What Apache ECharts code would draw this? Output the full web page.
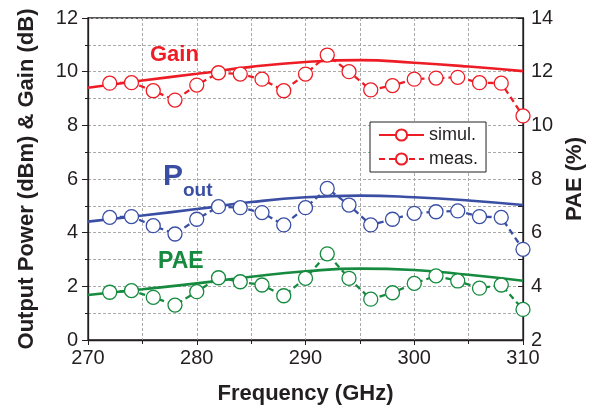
<!DOCTYPE html>
<html><head><meta charset="utf-8">
<script src="https://cdn.jsdelivr.net/npm/echarts@6/dist/echarts.min.js"></script>
<style>html,body{margin:0;padding:0;background:#fff}#c{width:599px;height:414px}</style>
</head><body><div id="c"></div>
<script>
const freqMeas = [272,274,276,278,280,282,284,286,288,290,292,294,296,298,300,302,304,306,308,310];
const gainMeas = [9.57,9.59,9.29,8.94,9.5,9.96,9.91,9.72,9.29,9.91,10.62,10.0,9.32,9.48,9.72,9.76,9.79,9.59,9.57,8.35];
const poutMeas = [4.57,4.6,4.26,3.95,4.5,4.97,4.93,4.75,4.29,4.93,5.65,5.03,4.29,4.5,4.72,4.78,4.81,4.6,4.57,3.38];
const paeMeas = [3.78,3.84,3.59,3.30,3.80,4.32,4.17,4.05,3.65,4.30,5.21,4.30,3.52,3.76,4.11,4.39,4.20,3.93,4.05,3.14];
const freqSim = [270,275,280,285,290,295,300,305,310];
const gainSim = [9.40,9.67,9.92,10.18,10.36,10.43,10.33,10.19,10.02];
const poutSim = [4.41,4.64,4.88,5.14,5.32,5.38,5.32,5.20,5.03];
const paeSim = [3.68,3.89,4.11,4.36,4.56,4.66,4.61,4.43,4.21];
const xTicks = [270,280,290,300,310];

const RED='#ee1c25', BLUE='#3a4ea3', GREEN='#168a3e', INK='#231f20';
const FONT='"Liberation Sans", Arial, sans-serif';
const pair = (xs, ys) => xs.map((x,i)=>[x, ys[i]]);

function sim(name, xs, ys, color, yIdx){
  return {name, type:'line', yAxisIndex:yIdx, data:pair(xs,ys), smooth:true, showSymbol:false,
    lineStyle:{color, width:2.6}, itemStyle:{color}, z:2, silent:true};
}
function meas(name, xs, ys, color, yIdx){
  return {name, type:'line', yAxisIndex:yIdx, data:pair(xs,ys), symbol:'circle', symbolSize:14,
    lineStyle:{color, width:2.3, type:[6,4]}, itemStyle:{color:'#fff', borderColor:color, borderWidth:1.3}, z:3, silent:true};
}
const nameStyle = {fontSize:22, fontWeight:'bold', color:INK, fontFamily:FONT};
const gridLine = {show:true, lineStyle:{color:'#aaa', type:[3,2], width:1}};

const chart = echarts.init(document.getElementById('c'));
chart.setOption({
  animation:false,
  backgroundColor:'#fff',
  grid:{left:88, right:76, top:18, bottom:74, show:true, borderColor:INK, borderWidth:1.3, backgroundColor:'transparent'},
  legend:{left:370, top:122, orient:'vertical', data:['simul.','meas.'], itemWidth:45, itemHeight:14, itemGap:6,
    padding:[4,8,4,8], borderColor:INK, borderWidth:1, backgroundColor:'#fff',
    textStyle:{fontSize:18, color:INK, fontFamily:FONT}},
  xAxis:{type:'value', min:270, max:310, interval:10,
    name:'Frequency (GHz)', nameLocation:'middle', nameGap:43, nameTextStyle:nameStyle,
    axisLine:{lineStyle:{color:INK, width:1.3}},
    axisTick:{length:5, lineStyle:{color:INK}},
    minorTick:{show:true, splitNumber:2, length:4, lineStyle:{color:INK}},
    axisLabel:{fontSize:20, color:INK, margin:8, fontFamily:FONT,
      formatter: v => xTicks.includes(v) ? String(v) : ''},
    splitLine:gridLine, minorSplitLine:gridLine
  },
  yAxis:[
    {type:'value', min:0, max:12, interval:2,
     name:'Output Power (dBm) & Gain (dB)', nameLocation:'middle', nameGap:50, nameRotate:90, nameTextStyle:nameStyle,
     axisLine:{show:true, lineStyle:{color:INK, width:1.3}},
     axisTick:{show:true, length:6, lineStyle:{color:INK}},
     minorTick:{show:true, splitNumber:2, length:3, lineStyle:{color:INK}},
     axisLabel:{fontSize:20, color:INK, margin:10, fontFamily:FONT},
     splitLine:gridLine, minorSplitLine:gridLine
    },
    {type:'value', min:2, max:14, interval:2, position:'right',
     name:'PAE (%)', nameLocation:'middle', nameGap:38, nameRotate:90, nameTextStyle:nameStyle,
     axisLine:{show:true, lineStyle:{color:INK, width:1.3}},
     axisTick:{show:true, inside:true, length:5, lineStyle:{color:INK}},
     minorTick:{show:true, splitNumber:2, length:5, lineStyle:{color:INK}},
     axisLabel:{fontSize:20, color:INK, margin:8, fontFamily:FONT},
     splitLine:{show:false}
    }
  ],
  series:[
    sim('simul.', freqSim, gainSim, RED, 0),
    meas('meas.', freqMeas, gainMeas, RED, 0),
    sim('Pout simul', freqSim, poutSim, BLUE, 0),
    meas('Pout meas', freqMeas, poutMeas, BLUE, 0),
    sim('PAE simul', freqSim, paeSim, GREEN, 1),
    meas('PAE meas', freqMeas, paeMeas, GREEN, 1)
  ],
  graphic:[
    {type:'text', left:150, top:44, style:{text:'Gain', fill:RED, font:'bold 22px "Liberation Sans"'}, z:10},
    {type:'text', left:163, top:162, style:{text:'{p|P}{s|out}', rich:{
      p:{fill:BLUE, font:'bold 30px "Liberation Sans"', verticalAlign:'bottom'},
      s:{fill:BLUE, font:'bold 19px "Liberation Sans"', verticalAlign:'bottom', padding:[0,0,-8,0]}
    }}, z:10},
    {type:'text', left:158, top:250, style:{text:'PAE', fill:GREEN, font:'bold 23px "Liberation Sans"'}, z:10}
  ]
});
</script></body></html>
